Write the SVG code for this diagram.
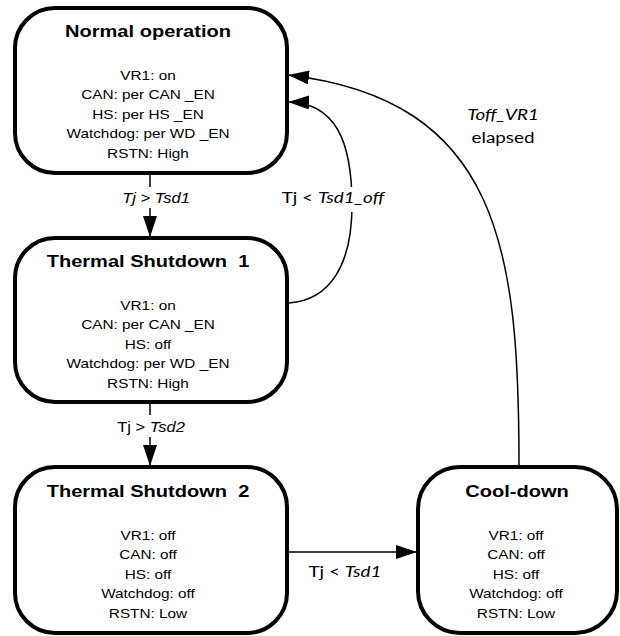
<svg xmlns="http://www.w3.org/2000/svg" width="620" height="636" viewBox="0 0 620 636">
<style>
.box{fill:#fff;stroke:#000;stroke-width:4}
.conn{fill:none;stroke:#000;stroke-width:1.5}
.title{font-family:"Liberation Sans",Arial,sans-serif;font-weight:bold;font-size:17px;text-anchor:middle;white-space:pre}
.body{font-family:"Liberation Sans",Arial,sans-serif;font-size:13px;text-anchor:middle}
.lbl{font-family:"Liberation Sans",Arial,sans-serif;font-size:14px;text-anchor:middle}
.cal{font-family:Lato,"Open Sans",sans-serif;font-size:16px;text-anchor:middle}
.it{font-style:italic}
.bg{fill:#fff;stroke:none}
</style>
<defs>
<marker id="ah" viewBox="0 0 21 14" refX="21" refY="7" markerWidth="21" markerHeight="14" markerUnits="userSpaceOnUse" orient="auto">
<path d="M0,0 L21,7 L0,14 z" fill="#000"/>
</marker>
</defs>

<g id="connectors">
<path class="conn" d="M150,175 L150,237" marker-end="url(#ah)"/>
<path class="conn" d="M150,404 L150,466" marker-end="url(#ah)"/>
<path class="conn" d="M289,552 L417,552" marker-end="url(#ah)"/>
<path class="conn" d="M289,303 C330,300 352,265 352,205 C352,140 335,103 288,102" marker-end="url(#ah)"/>
<path class="conn" d="M519,465 C519,250 500,100 288,75" marker-end="url(#ah)"/>
<rect class="bg" x="119" y="187" width="74" height="21"/>
<text class="lbl it" transform="translate(156,203) scale(1.18,1)">Tj &gt; Tsd1</text>
<rect class="bg" x="109" y="415" width="84" height="22"/>
<text class="lbl" transform="translate(151,432) scale(1.18,1)">Tj &gt; <tspan class="it">Tsd2</tspan></text>
<rect class="bg" x="278" y="187" width="112" height="25"/>
<text class="cal" transform="translate(333,203) scale(1.18,1)">Tj &lt; <tspan class="it">Tsd1_off</tspan></text>
<text class="cal it" transform="translate(503,120) scale(1.18,1)">Toff_VR1</text>
<text class="cal" transform="translate(503,143) scale(1.18,1)">elapsed</text>
<text class="cal" transform="translate(345,577) scale(1.18,1)">Tj &lt; <tspan class="it">Tsd1</tspan></text>
</g>

<g id="normal">
<rect class="box" x="15" y="8" width="272" height="165" rx="40" ry="40"/>
<text class="title" transform="translate(148,37) scale(1.18,1)">Normal operation</text>
<text class="body" transform="translate(148,80) scale(1.18,1)"><tspan x="0" y="0">VR1: on</tspan><tspan x="0" y="19.4">CAN: per CAN _EN</tspan><tspan x="0" y="38.8">HS: per HS _EN</tspan><tspan x="0" y="58.2">Watchdog: per WD _EN</tspan><tspan x="0" y="77.6">RSTN: High</tspan></text>
</g>

<g id="tsd1">
<rect class="box" x="15" y="238" width="272" height="164" rx="40" ry="40"/>
<text class="title" transform="translate(148,267) scale(1.18,1)">Thermal Shutdown  1</text>
<text class="body" transform="translate(148,310) scale(1.18,1)"><tspan x="0" y="0">VR1: on</tspan><tspan x="0" y="19.4">CAN: per CAN _EN</tspan><tspan x="0" y="38.8">HS: off</tspan><tspan x="0" y="58.2">Watchdog: per WD _EN</tspan><tspan x="0" y="77.6">RSTN: High</tspan></text>
</g>

<g id="tsd2">
<rect class="box" x="15" y="467" width="272" height="166" rx="40" ry="40"/>
<text class="title" transform="translate(148,497) scale(1.18,1)">Thermal Shutdown  2</text>
<text class="body" transform="translate(148,540) scale(1.18,1)"><tspan x="0" y="0">VR1: off</tspan><tspan x="0" y="19.4">CAN: off</tspan><tspan x="0" y="38.8">HS: off</tspan><tspan x="0" y="58.2">Watchdog: off</tspan><tspan x="0" y="77.6">RSTN: Low</tspan></text>
</g>

<g id="cooldown">
<rect class="box" x="418" y="467" width="199" height="166" rx="42" ry="42"/>
<text class="title" transform="translate(517,497) scale(1.18,1)">Cool-down</text>
<text class="body" transform="translate(516,540) scale(1.18,1)"><tspan x="0" y="0">VR1: off</tspan><tspan x="0" y="19.4">CAN: off</tspan><tspan x="0" y="38.8">HS: off</tspan><tspan x="0" y="58.2">Watchdog: off</tspan><tspan x="0" y="77.6">RSTN: Low</tspan></text>
</g>
</svg>
